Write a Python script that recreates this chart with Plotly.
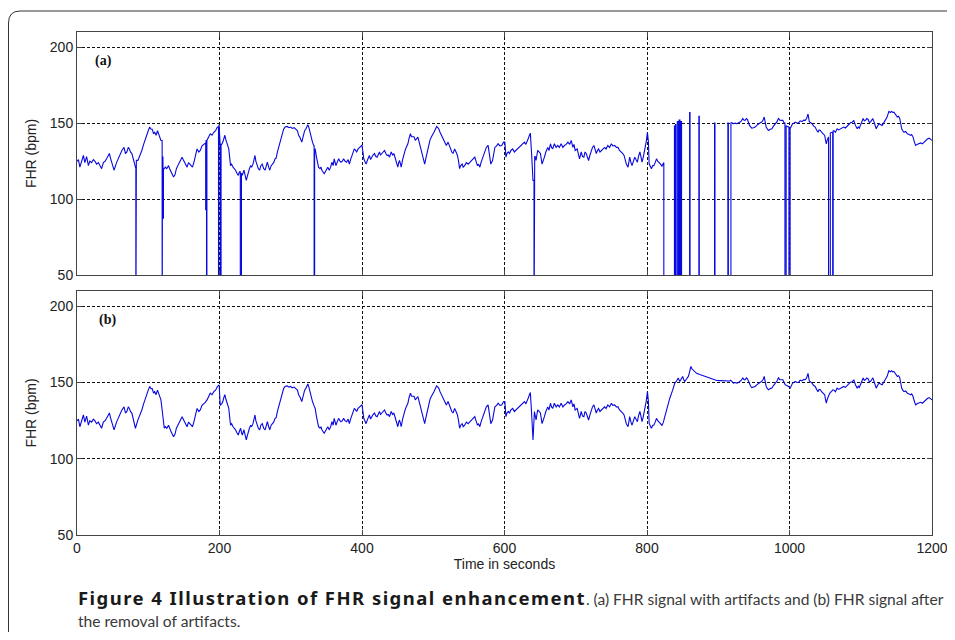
import plotly.graph_objects as go

# ---------------- data ----------------
# Clean FHR signal (panel b), time in seconds and FHR in bpm
T_CLEAN = [
    0, 2, 4, 6.5, 9, 11, 13.5, 16, 18, 20.5, 23, 25, 27.5, 30, 32, 34.5, 37, 39.5, 41.5, 45.5,
    47, 48.5, 52, 55.5, 58, 60.5, 63, 66, 68, 70, 72, 73.5, 75, 77, 79, 82, 85.5, 88.5, 91, 93.5,
    96, 98, 100, 102, 104, 105.5, 107.5, 109, 111, 113, 114.5, 116, 117.8, 119.5, 120.6, 122.5,
    124, 126, 128.5, 130, 132, 135.5, 137.5, 139.5, 142.5, 145, 147.5, 149, 151, 153, 154.5,
    156.5, 158.5, 160, 162, 164, 166, 168.5, 171, 173, 175.5, 178, 180, 182.5, 185, 187, 189.5,
    192, 194.5, 197, 199.5,
    201, 203, 204.7, 206, 207.5, 209, 211, 213, 215.5, 217, 219, 221, 222.5, 224.5, 226.3, 228,
    229.6, 231, 232, 234.3, 236, 237.6, 239, 240.4, 242, 243.7, 245, 247, 248.5, 249.8, 251, 253,
    254.5, 256.4, 258, 260, 262, 264, 265.5, 267.2, 269, 270.5, 272.5, 274.2, 276, 278, 279.5,
    281.3, 283, 284.5, 286.5, 288.3, 290, 292, 295, 297.5, 300, 302, 304.7, 307, 309.4, 311,
    312.7, 315.5, 317.9, 319.5, 321, 322.5, 324, 325.5, 326.8, 328.5, 330.5, 332.5, 334.3, 336,
    337.6, 339, 341, 342.5, 343.7, 345.5, 347, 348.5, 350.3, 352, 354, 356, 357.8, 359.5, 361,
    362, 363.4, 365, 367.2, 369, 370.5, 372.5, 374.2, 376, 378.4, 380.5, 382.2, 384, 386, 387.5,
    389.2, 391, 392.5, 394.5, 396.3, 398.5, 400,
    402.5, 404, 405.7, 408, 410.4, 412, 413.7, 415.5, 417.5, 419.5, 421.2, 423, 424.5, 426,
    427.8, 429.5, 431.6, 433.5, 435.3, 437, 438.6, 441, 443, 444.7, 446.5, 448, 450.3, 451.5,
    452.7, 454, 455, 457, 458.8, 460.5, 462, 464.4, 466, 468, 469.5, 471.5, 473, 474.8, 476.5,
    478.5, 480.5, 482.3, 484, 485.5, 487, 488, 490, 492, 493.5, 495.5, 497.3, 499, 501, 503,
    504.8, 506.5, 508, 509.5, 511.4, 513, 515, 516.5, 518.4, 520.8, 522.5, 524.5, 526, 527.8,
    530, 532, 534, 535.5, 537, 538.5, 540.5, 542, 544, 546.5, 549, 551, 553.6, 556, 558.3, 560,
    562, 563.5, 565.4, 567, 568.6, 570.5, 572.4, 574.5, 577, 579, 580.8, 583.2, 585, 586.5, 589,
    591, 593.5, 596, 598.8, 600.5,
    602, 603.5, 605.3, 607, 609, 611.5, 613.8, 616, 618.5, 621, 623, 625.5, 628, 630, 631.6,
    633.5, 635, 636.3, 638, 640, 642, 643, 644.3, 645.5, 646.6, 648.5, 650.4, 652.7, 654.5, 656,
    658, 660.7, 662.5, 664.5, 666, 667.7, 670, 672.5, 674.8, 677, 679.5, 682, 684.2, 686.5, 689,
    691.5, 693.6, 696, 697.5, 699.2, 702, 703.5, 705.3, 707.7, 709.5, 711.4, 713, 714.7, 716.5,
    718, 720, 721.8, 723.5, 725.5, 727, 728.8, 730.5, 732, 734, 735.8, 738, 740.5, 742.5, 745,
    747.5, 750, 752, 754.6, 757, 759.3, 761.5, 764, 766, 767.8, 769.5, 771, 773.4, 775.7, 777.5,
    779, 781, 782.8, 784.5, 786.5, 788, 790, 791.5, 793, 794.5, 796, 797.8, 799, 800.6, 802, 803,
    804.5, 806.2, 808, 809.5, 811.5, 813.3, 815, 817, 819, 821, 823, 825,
    828, 832, 836, 839, 841.5, 843.8, 846, 848, 850, 851.5, 853, 855, 856.5, 858, 859.3, 860.5,
    861.6, 863, 865, 867, 869.6, 874, 879, 884, 888.4, 893, 898, 902, 907, 911, 914.2, 916,
    917.5, 919.5, 921.3, 924, 926, 928.5, 930.7, 932.5, 934.4, 936, 937.7, 939.5, 941, 943.8,
    945.5, 947, 949.5, 951.8, 954, 956.5, 959, 961, 963, 964.5, 966, 967.3, 969, 970.6, 973,
    975.3, 977.5, 980, 982.5, 984.6, 986, 988, 990.7, 992.5, 994, 996, 998.7, 1001,
    1004.3, 1006, 1008, 1010.5, 1012.8, 1015, 1017.5, 1020, 1022, 1024, 1026, 1027.8, 1030,
    1031.6, 1034, 1036, 1038, 1040, 1041.5, 1043.3, 1045, 1046.6, 1048, 1049.4, 1050.5, 1051.7,
    1053, 1054, 1055.5, 1057.4, 1059, 1060.7, 1062.5, 1064.4, 1066.8, 1069, 1071.5, 1074, 1076,
    1078.5, 1081, 1083, 1085.5, 1088, 1090.2, 1092.6, 1095, 1096.5, 1098, 1099.5, 1101, 1103.4,
    1105, 1106.7, 1108.5, 1110.4, 1112, 1113.7, 1115.5, 1117, 1118.5, 1119.8, 1121.7, 1123.5,
    1125.5, 1128, 1130, 1132, 1134, 1137, 1139.5, 1141.5, 1143.3, 1145, 1146.6, 1149, 1151.3,
    1153, 1154.6, 1156, 1157.4, 1159, 1160.7, 1163, 1165.4, 1168, 1170, 1171.5, 1173.4, 1175,
    1177, 1179, 1181.8, 1184, 1186.5, 1189, 1191, 1193.5, 1196, 1198, 1200,
]
FHR_CLEAN = [
    124.8, 126, 121, 125, 128.7, 124, 128, 122, 125, 124, 126, 125, 123, 124, 122, 120, 124, 125, 126.5, 130,
    127, 124, 119, 124, 127, 130, 132, 134, 130, 131, 134, 133, 131, 130, 126.5, 120, 125.5, 128.7, 132, 136,
    140, 143, 145, 147.4, 146, 146, 143, 144, 142, 145, 143, 141, 138.6, 132, 127.6, 120,
    121, 120, 122, 120, 117.8, 114.5, 116, 120, 123, 125, 127.6, 126, 124, 122, 121,
    124, 123, 122, 121, 124, 128, 133, 131, 132, 135, 136, 137, 138.6, 141, 143, 142,
    144, 145, 147.4, 148.5,
    135, 136, 137.5, 140, 142, 139, 136.4, 133, 122, 123, 121, 120, 119, 117, 115.6, 118,
    120, 117, 115.6, 119, 116, 112.3, 115, 117.8, 120, 122, 121, 123, 126, 128.7, 125, 122,
    120, 119, 122, 123, 120, 119, 121, 124.3, 121, 119, 122, 123, 124, 126.5, 127,
    131, 134, 136.4, 140, 144, 146, 147.4, 147.8, 147, 147.4, 146.5, 147, 146, 145, 142,
    140.8, 137.5, 143, 145, 146, 148, 149, 147, 144, 140, 137.5, 135, 133, 128,
    123, 121, 120, 121, 119, 118, 116.7, 118, 120, 121, 119, 121, 124.3, 122, 126.5,
    124, 122, 124, 126.5, 125, 124.3, 125, 126.5, 125, 124.3, 126, 123, 126, 128.7, 130,
    133, 132, 131, 133, 134, 135.3, 135.5,
    126.5, 125, 123, 126, 128.7, 126, 127.6, 129, 130, 128, 127.6, 129, 131, 129,
    130, 131, 132, 130, 128.7, 129, 127.6, 131, 129, 130, 127, 124.3, 121, 124,
    125.4, 123, 121, 126, 130, 132, 134, 136.4, 140, 143, 141, 140.8, 141, 138.6, 140,
    140.8, 137, 134, 131, 128.7, 125, 123, 127.6, 132, 136.4, 139, 140.8, 142, 144, 146,
    147.8, 147, 146, 144, 142, 140, 138.6, 137, 135.3, 137.5, 135, 133, 131, 130,
    133, 131, 128.7, 125, 120, 122, 123, 121, 122, 124, 123, 124, 125.4, 126, 127.6, 125,
    122, 123, 121, 124, 126.5, 129, 132, 134, 135.3, 130, 123, 125.4, 130, 134, 135,
    136.4, 135, 135.3, 137.5, 137.5,
    127.6, 130, 131, 130, 132, 133, 131, 132, 133, 134, 135.3, 136, 137.5, 136, 138.6,
    140, 142, 143.4, 130, 112.3, 131, 128, 125.4, 129, 132, 131, 130, 123, 125, 127.6,
    131, 134, 132, 136.4, 134, 133, 136.4, 134, 135.3, 134, 136.4, 134, 135.3, 136, 137.5,
    136, 138.6, 134, 136, 132, 133, 130, 126.5, 131, 128, 127.6, 131, 130, 127,
    125.4, 129, 132, 134, 135.3, 133, 130, 132, 133, 131, 132, 133, 134, 133, 135.3,
    134, 136.4, 135, 135.3, 134, 134, 132, 131, 130, 128.7, 126, 123, 121, 127.6, 124,
    122, 125, 127.6, 126, 124.3, 128, 131, 128, 124.3, 127, 130, 134, 138, 144, 137.5, 123.2,
    121, 120, 122, 122, 124, 126.5, 125, 124.3, 123, 121.7, 124, 127.6,
    133, 139.7, 145, 149.6, 151, 152.9, 150.7, 152, 154, 152, 150.7, 152, 153, 154, 156, 158,
    160.5, 159, 158, 157, 156, 155.2, 154.4, 153.3, 152.4, 151.8, 151.3, 151.2, 151, 150.8, 150.7, 151,
    151.5, 150.2, 149.6, 150, 149.6, 150, 150.7, 151.5, 153, 152, 151.8, 153, 152.4, 148.5,
    147.5, 146.7, 147, 147.4, 148.5, 149.6, 150.2, 150.7, 152, 154, 150, 147.4, 146, 145.2, 146,
    146.3, 148, 149.6, 151, 153.3, 152, 151.8, 151.8, 150, 148.5, 148, 147.4, 146.3,
    149.6, 150, 150.7, 150, 150.2, 151.5, 151, 152, 151.8, 153, 156, 151, 150.5,
    149.6, 148, 147.4, 145.5, 144, 145.5, 145.2, 144, 143, 142.5, 141.9, 139, 136.4,
    139, 140.8, 142, 143.6, 144, 145.2, 145, 144, 146.3, 145.5, 146.3, 147, 147.4,
    146.8, 148, 149, 150.2, 150.5, 151.8, 148.5, 146.3, 147.5, 146.7, 148.5, 150.7, 153,
    151.5, 151.8, 153, 152.4, 150.5, 150.7, 152, 153, 151, 148.9, 146.3, 148,
    149.6, 149, 148.5, 150, 151.8, 154, 157.7, 157, 157.7, 157, 157.2, 155.5, 154,
    154.5, 153.3, 150, 146.3, 145, 144, 144.5, 143, 142.5, 141.9, 142.5, 140.8, 138,
    135.3, 136, 136.4, 137, 136.4, 137.5, 138.6, 139.5, 140.1, 139, 138.6,
]

# Artifacts in panel (a): signal drop-outs (start, end, level) and short bursts
DROP_START = [82.6, 119.5, 120.8, 180.6, 181.8, 198.6, 201.3, 229.2, 332.8, 641.4, 823.6, 993.6, 999.2, 1054.8, 1060.6]
DROP_END = [83.3, 120.0, 121.3, 181.2, 182.3, 199.2, 202.2, 230.8, 333.5, 642.4, 917.8, 995.3, 1000.9, 1057.3, 1061.3]
DROP_LEVEL = [0, 0, 87, 93, 0, 0, 0, 0, 0, 0, 0, 0, 0, 0, 0]
BURST_START = [838.5, 840.0, 842.6, 845.0, 847.0, 859.8, 872.8, 894.8, 913.5]
BURST_END = [839.2, 840.6, 844.3, 846.3, 848.5, 860.4, 873.4, 895.4, 914.2]
BURST_VALUE = [148, 149, 151, 152, 151, 157, 154.5, 150, 150]

X_TICKS = [0, 200, 400, 600, 800, 1000, 1200]
Y_TICKS = [50, 100, 150, 200]

# ---------------- build panel (a) series ----------------
ta, ya = [], []
i = 0
n = len(T_CLEAN)
for s, e, lvl in zip(DROP_START, DROP_END, DROP_LEVEL):
    while i < n and T_CLEAN[i] < s:
        ta.append(T_CLEAN[i]); ya.append(FHR_CLEAN[i]); i += 1
    prev = ya[-1]
    ta += [s, s]; ya += [prev, lvl]
    for bs, be, bv in zip(BURST_START, BURST_END, BURST_VALUE):
        if s < bs < e:
            ta += [bs, bs, be, be]; ya += [lvl, bv, bv, lvl]
    while i < n and T_CLEAN[i] <= e:
        i += 1
    nxt = FHR_CLEAN[i]
    ta += [e, e]; ya += [lvl, nxt]
while i < n:
    ta.append(T_CLEAN[i]); ya.append(FHR_CLEAN[i]); i += 1

# ---------------- figure ----------------
# the page body adds an 8 px offset; figure sized to fit inside the window
OFF = 8
W, H = 955 - 2 * OFF, 640 - 2 * OFF
ML, MT = 77 - OFF, 32 - OFF
MR = W - (932 - OFF)
MB = H - (535 - OFF)
PW, PH = W - ML - MR, H - MT - MB

def px(x):  # page pixel -> paper x
    return (x - OFF - ML) / PW

def py(y):  # page pixel -> paper y
    return (H - MB - (y - OFF)) / PH

LINE_COLOR = "#0808e0"
fig = go.Figure()
fig.add_trace(go.Scatter(x=ta, y=ya, mode="lines", line=dict(color=LINE_COLOR, width=1.1),
                         xaxis="x", yaxis="y", showlegend=False, hoverinfo="skip"))
fig.add_trace(go.Scatter(x=T_CLEAN, y=FHR_CLEAN, mode="lines", line=dict(color=LINE_COLOR, width=1.1),
                         xaxis="x2", yaxis="y2", showlegend=False, hoverinfo="skip"))

AX_FONT = "Liberation Sans, Arial, sans-serif"
tickfont = dict(family=AX_FONT, size=14, color="#222")
titlefont = dict(family=AX_FONT, size=14, color="#222")
axis_common = dict(showline=True, mirror="ticks", linecolor="#444", linewidth=1,
                   ticks="inside", ticklen=5, tickcolor="#444",
                   showgrid=True, gridcolor="#111", gridwidth=1, griddash="3px,2px",
                   zeroline=False, tickfont=tickfont, ticklabeloverflow="allow",
                   automargin=False)

top_lo = py(275)
bot_hi = py(291)
fig.update_layout(
    width=W, height=H,
    margin=dict(l=ML, r=MR, t=MT, b=MB, autoexpand=False),
    paper_bgcolor="white", plot_bgcolor="white",
    xaxis=dict(domain=[0, 1], range=[0, 1200], tickvals=X_TICKS, showticklabels=False,
               anchor="y", **axis_common),
    yaxis=dict(domain=[top_lo, 1], range=[50, 210], tickvals=Y_TICKS, anchor="x",
               title=dict(text="FHR (bpm)", font=titlefont, standoff=9), **axis_common),
    xaxis2=dict(domain=[0, 1], range=[0, 1200], tickvals=X_TICKS, anchor="y2",
                title=dict(text="Time in seconds", font=titlefont, standoff=3), **axis_common),
    yaxis2=dict(domain=[0, bot_hi], range=[50, 210], tickvals=Y_TICKS, anchor="x2",
                title=dict(text="FHR (bpm)", font=titlefont, standoff=9), **axis_common),
)

# panel labels
fig.add_annotation(x=36.5, y=191, xref="x", yref="y", text="<b>(a)</b>", showarrow=False,
                   font=dict(family="Liberation Serif, Times New Roman, serif", size=14, color="#111"))
fig.add_annotation(x=43.5, y=191, xref="x2", yref="y2", text="<b>(b)</b>", showarrow=False,
                   font=dict(family="Liberation Serif, Times New Roman, serif", size=14, color="#111"))

# caption
cap_font = "Lato, Open Sans, sans-serif"
fig.add_annotation(x=px(76), y=py(597), xref="paper", yref="paper", xanchor="left", yanchor="middle",
                   showarrow=False, align="left",
                   text=("<span style='font-family:Noto Sans;font-weight:bold;font-size:18.5px;"
                         "letter-spacing:1.45px;color:#1a1a1a'>"
                         "Figure 4 Illustration of FHR signal enhancement</span>"
                         ". (a) FHR signal with artifacts and (b) FHR signal after"),
                   font=dict(family=cap_font, size=15.6, color="#3a3a3a"))
fig.add_annotation(x=px(76), y=py(621), xref="paper", yref="paper", xanchor="left", yanchor="middle",
                   showarrow=False, align="left", text="the removal of artifacts.",
                   font=dict(family=cap_font, size=15.6, color="#3a3a3a"))

# outer rounded frame
path = (f"M {px(8.5)},{py(650)} L {px(8.5)},{py(23)} Q {px(8.5)},{py(11)} {px(20)},{py(11)} "
        f"L {px(960)},{py(11)}")
fig.add_shape(type="path", path=path, xref="paper", yref="paper",
              line=dict(color="#333", width=1), layer="above")

fig.write_html("out.html")
